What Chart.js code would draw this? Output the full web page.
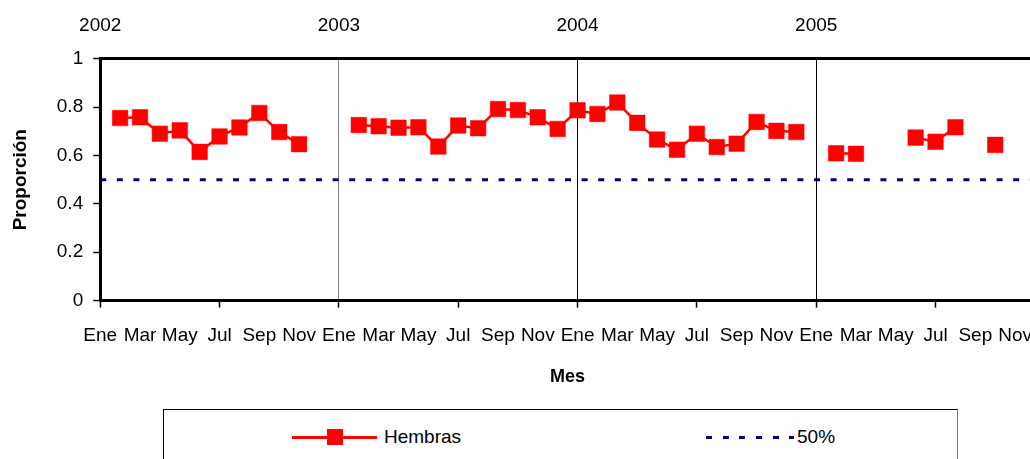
<!DOCTYPE html>
<html>
<head>
<meta charset="utf-8">
<script src="https://cdn.jsdelivr.net/npm/chart.js@4.4.0/dist/chart.umd.min.js"></script>
<style>
  html, body { margin: 0; padding: 0; background: #fff; }
  #wrap { position: relative; width: 1030px; height: 459px; overflow: hidden; font-family: 'Liberation Sans', Arial, sans-serif; }
  #chart { position: absolute; left: 0; top: 0; }
  #legend { position: absolute; left: 163px; top: 409px; width: 793px; height: 80px; border: 1px solid #000; border-right-color: #777; background: #fff; }
  .item { position: absolute; top: 16px; height: 22px; display: flex; align-items: center; font-size: 19px; color: #000; }
  .ico { position: relative; height: 22px; margin-right: 7px; }
  .ico i { position: absolute; display: block; }
</style>
</head>
<body>
<div id="wrap">
  <canvas id="chart" width="1052" height="459"></canvas>
  <div id="legend"></div>
</div>
<script>
const monthLabels = ['Ene', 'Feb', 'Mar', 'Abr', 'May', 'Jun', 'Jul', 'Ago', 'Sep', 'Oct', 'Nov', 'Dic'];
const yearLabels = ['2002', '2003', '2004', '2005'];

// proporcion de hembras por mes (null = sin muestreo)
const hembras2002 = [null, 0.755, 0.758, 0.690, 0.704, 0.615, 0.679, 0.716, 0.776, 0.697, 0.647, null];
const hembras2003 = [null, 0.726, 0.721, 0.715, 0.717, 0.637, 0.724, 0.713, 0.792, 0.788, 0.758, 0.710];
const hembras2004 = [0.787, 0.772, 0.819, 0.735, 0.666, 0.624, 0.690, 0.635, 0.649, 0.739, 0.702, 0.697];
const hembras2005 = [null, 0.609, 0.607, null, null, 0.674, 0.657, 0.717, null, 0.644, null, null];
const referencia = 0.5;

const hembras = [...hembras2002, ...hembras2003, ...hembras2004, ...hembras2005];
const lastMonth = hembras.length - 1;

const FONT = "'Liberation Sans', Arial, sans-serif";
Chart.defaults.font.family = FONT;
Chart.defaults.font.size = 19;
Chart.defaults.color = '#000';

function gridColor(c) {
  const v = c.tick ? c.tick.value : -1;
  if (v === 12) return '#808080';
  if (v > 0 && v % 12 === 0) return '#000';
  return 'rgba(0,0,0,0)';
}

const chart = new Chart(document.getElementById('chart'), {
  type: 'line',
  data: {
    datasets: [
      {
        label: 'Hembras',
        data: hembras.map((v, i) => ({ x: i, y: v })),
        borderColor: '#ff0000',
        backgroundColor: '#ff0000',
        borderWidth: 2.5,
        pointStyle: 'rect',
        pointRadius: 11,
        pointBorderWidth: 0.5,
        pointBackgroundColor: '#ff0000',
        pointBorderColor: '#ff0000',
        spanGaps: false,
        tension: 0,
        order: 1,
      },
      {
        label: '50%',
        data: hembras.map((_, i) => ({ x: i, y: referencia })),
        borderColor: '#000080',
        borderWidth: 3,
        borderDash: [6, 10.6],
        pointRadius: 0,
        tension: 0,
        order: 2,
      },
    ],
  },
  options: {
    responsive: false,
    animation: false,
    layout: { padding: { top: -8, bottom: 71, left: 0, right: 0 } },
    plugins: { legend: { display: false }, tooltip: { enabled: false } },
    scales: {
      x: {
        type: 'linear',
        min: 0,
        max: lastMonth,
        border: { color: '#000', width: 3 },
        grid: {
          color: gridColor,
          lineWidth: 1,
          tickColor: c => (c.tick && c.tick.value % 6 === 0 ? '#000' : 'rgba(0,0,0,0)'),
          tickLength: 7,
          tickWidth: 1.5,
        },
        ticks: {
          stepSize: 1,
          includeBounds: false,
          autoSkip: false,
          maxRotation: 0,
          padding: 17,
          callback: v => (v % 2 === 0 ? monthLabels[v % 12] : ''),
        },
        title: {
          display: true,
          text: 'Mes',
          font: { weight: 'bold', size: 18 },
          padding: { top: 2, bottom: 0 },
        },
      },
      x2: {
        type: 'linear',
        position: 'top',
        min: 0,
        max: lastMonth,
        border: { color: '#000', width: 3 },
        grid: { drawOnChartArea: false, drawTicks: false },
        ticks: {
          stepSize: 12,
          includeBounds: false,
          autoSkip: false,
          maxRotation: 0,
          padding: 22,
          callback: v => yearLabels[v / 12] || '',
        },
      },
      y: {
        min: 0,
        max: 1,
        border: { color: '#000', width: 3 },
        grid: { drawOnChartArea: false, tickLength: 7, tickColor: '#000', tickWidth: 1.5 },
        ticks: {
          stepSize: 0.2,
          padding: 10,
          callback: v => String(Math.round(v * 10) / 10),
        },
        title: {
          display: true,
          text: 'Proporción',
          font: { weight: 'bold', size: 19 },
          padding: { top: 9, bottom: 15 },
        },
      },
    },
  },
});

// legend box drawn as html, same colours as the datasets
function renderLegend(ch) {
  const el = document.getElementById('legend');
  const [hem, ref] = ch.data.datasets;
  el.innerHTML = `
    <div class="item" style="left:128px">
      <span class="ico" style="width:85px">
        <i style="left:0;right:0;top:9.5px;height:3px;background:${hem.borderColor}"></i>
        <i style="left:35px;top:3px;width:16px;height:16px;background:${hem.pointBackgroundColor}"></i>
      </span>${hem.label}
    </div>
    <div class="item" style="left:542px">
      <span class="ico" style="width:88px;margin-right:3px">
        <i style="left:0;right:0;top:9.5px;height:3px;background:repeating-linear-gradient(90deg, ${ref.borderColor} 0 6px, transparent 6px 16.7px)"></i>
      </span>${ref.label}
    </div>`;
}
renderLegend(chart);
</script>
</body>
</html>
